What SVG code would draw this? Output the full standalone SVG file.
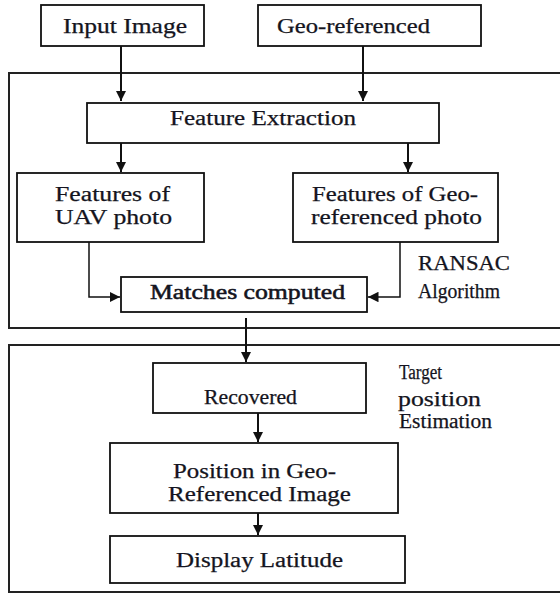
<svg xmlns="http://www.w3.org/2000/svg" width="560" height="594" viewBox="0 0 560 594">
<style>
.box{fill:#fff;stroke:#111;stroke-width:1.8}
.panel{fill:none;stroke:#222;stroke-width:2}
.t{font-family:"Liberation Serif",serif;font-size:20px;fill:#141420;stroke:#141420;stroke-width:0.25}
.c{stroke:#111;stroke-width:2;fill:none}
.thin{stroke:#111;stroke-width:1.5;fill:none}
</style>
<defs>
<marker id="ah" viewBox="0 0 10 10" refX="10" refY="5" markerWidth="5" markerHeight="5" markerUnits="strokeWidth" orient="auto">
<path d="M0,0 L10,5 L0,10 z" fill="#111"/>
</marker>
<marker id="ah2" viewBox="0 0 10 10" refX="10" refY="5" markerWidth="7" markerHeight="7" markerUnits="strokeWidth" orient="auto">
<path d="M0,0 L10,5 L0,10 z" fill="#111"/>
</marker>
</defs>
<rect class="panel" x="9" y="73" width="570" height="255"/>
<rect class="panel" x="9" y="345" width="570" height="247"/>
<g id="connectors">
<path class="c" d="M121,46 V101" marker-end="url(#ah)"/>
<path class="c" d="M363,46 V101" marker-end="url(#ah)"/>
<path class="c" d="M121,143 V172" marker-end="url(#ah)"/>
<path class="c" d="M408,143 V172" marker-end="url(#ah)"/>
<path class="thin" d="M89,242 V297 H120" marker-end="url(#ah2)"/>
<path class="thin" d="M400,242 V297 H368" marker-end="url(#ah2)"/>
<path class="c" d="M246,318 V362" marker-end="url(#ah)"/>
<path class="c" d="M258,413 V442" marker-end="url(#ah)"/>
<path class="c" d="M258,513 V535" marker-end="url(#ah)"/>
</g>
<g id="input-image"><rect class="box" x="41" y="5" width="163" height="41"/><text class="t" x="63" y="33" textLength="124" lengthAdjust="spacingAndGlyphs">Input Image</text></g>
<g id="geo-referenced"><rect class="box" x="258" y="5" width="223" height="41"/><text class="t" x="277" y="33" textLength="153" lengthAdjust="spacingAndGlyphs">Geo-referenced</text></g>
<g id="feature-extraction"><rect class="box" x="87" y="103" width="352" height="40"/><text class="t" x="170" y="125" textLength="186" lengthAdjust="spacingAndGlyphs">Feature Extraction</text></g>
<g id="features-uav"><rect class="box" x="17" y="173" width="187" height="69"/><text class="t" x="55" y="201" textLength="115" lengthAdjust="spacingAndGlyphs">Features of</text><text class="t" x="55" y="224" textLength="117" lengthAdjust="spacingAndGlyphs">UAV photo</text></g>
<g id="features-geo"><rect class="box" x="293" y="173" width="205" height="69"/><text class="t" x="312" y="201" textLength="166" lengthAdjust="spacingAndGlyphs">Features of Geo-</text><text class="t" x="311" y="224" textLength="171" lengthAdjust="spacingAndGlyphs">referenced photo</text></g>
<g id="matches"><rect class="box" x="121" y="277" width="246" height="35"/><text class="t" x="150" y="299" textLength="195" lengthAdjust="spacingAndGlyphs" style="stroke-width:0.5">Matches computed</text></g>
<g id="ransac-label"><text class="t" x="418" y="270" textLength="92" lengthAdjust="spacingAndGlyphs">RANSAC</text><text class="t" x="418" y="298" font-size="16" textLength="82" lengthAdjust="spacingAndGlyphs">Algorithm</text></g>
<g id="recovered"><rect class="box" x="153" y="363" width="213" height="50"/><text class="t" x="204" y="404" textLength="93" lengthAdjust="spacingAndGlyphs">Recovered</text></g>
<g id="target-label"><text class="t" x="399" y="379" font-size="12" textLength="43" lengthAdjust="spacingAndGlyphs">Target</text><text class="t" x="398" y="406" font-size="21" textLength="83" lengthAdjust="spacingAndGlyphs">position</text><text class="t" x="399" y="428" font-size="16" textLength="93" lengthAdjust="spacingAndGlyphs">Estimation</text></g>
<g id="position"><rect class="box" x="110" y="443" width="288" height="70"/><text class="t" x="173" y="478" textLength="163" lengthAdjust="spacingAndGlyphs">Position in Geo-</text><text class="t" x="168" y="501" textLength="183" lengthAdjust="spacingAndGlyphs">Referenced Image</text></g>
<g id="display"><rect class="box" x="110" y="536" width="295" height="47"/><text class="t" x="176" y="567" textLength="167" lengthAdjust="spacingAndGlyphs">Display Latitude</text></g>
</svg>
